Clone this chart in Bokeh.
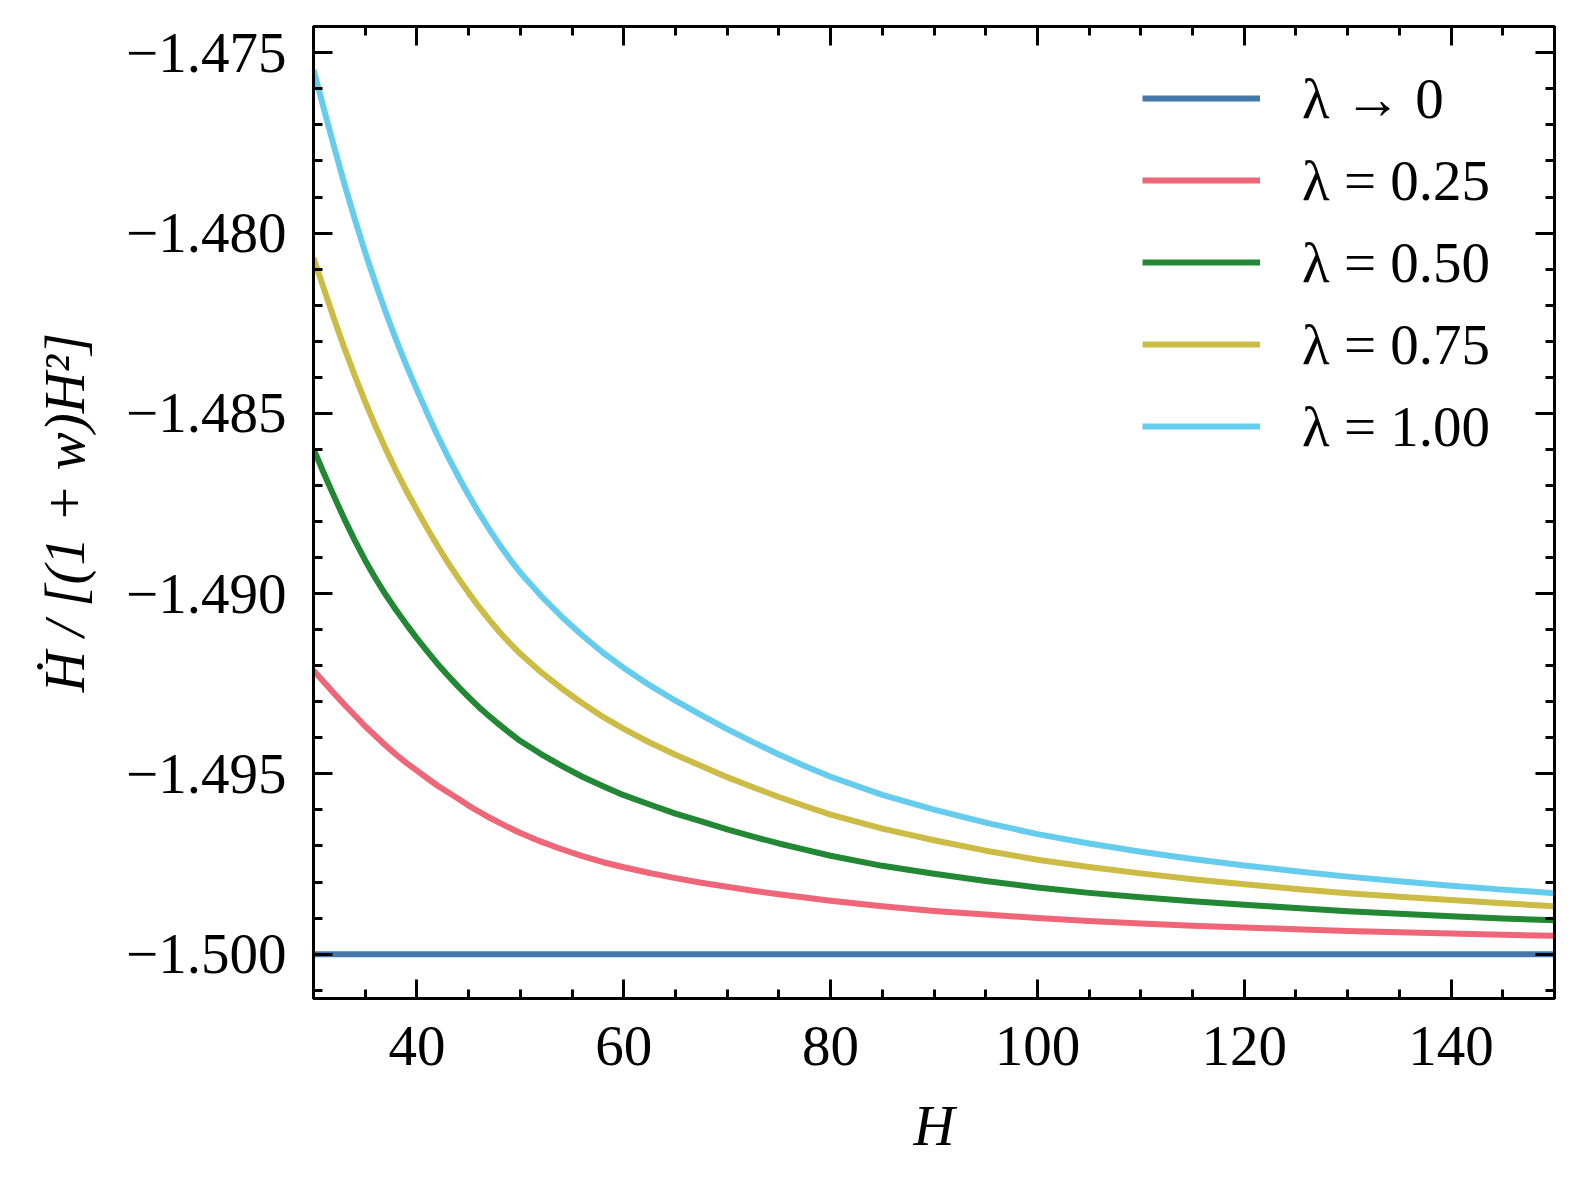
from bokeh.plotting import figure
from bokeh.models import (Range1d, FixedTicker, LinearAxis, Legend, LegendItem,
                          CustomJSTickFormatter)
from bokeh.embed import file_html
from bokeh.resources import INLINE

# ---------------- data ----------------
H_vals = [30, 31, 32, 33, 34, 35, 36, 37, 38, 39, 40, 41, 42, 43, 44, 45, 46,
          47, 48, 49, 50, 52, 54, 56, 58, 60, 62.5, 65, 67.5, 70, 72.5, 75,
          77.5, 80, 85, 90, 95, 100, 105, 110, 115, 120, 125, 130, 135, 140,
          145, 150]

H_lam0 = [30, 150]
y_lam0 = [-1.500, -1.500]

y_lam025 = [-1.49213, -1.49245, -1.49277, -1.49308, -1.49338, -1.49368,
            -1.49395, -1.49422, -1.49447, -1.49470, -1.49491, -1.49512,
            -1.49533, -1.49551, -1.49569, -1.49588, -1.49605, -1.49621,
            -1.49636, -1.49650, -1.49664, -1.49688, -1.49709, -1.49728,
            -1.49745, -1.49759, -1.49775, -1.49789, -1.49802, -1.49813,
            -1.49824, -1.49834, -1.49843, -1.49852, -1.49867, -1.49880,
            -1.49890, -1.49900, -1.49908, -1.49915, -1.49921, -1.49926,
            -1.49931, -1.49936, -1.49939, -1.49943, -1.49946, -1.49949]

y_lam050 = [-1.48599, -1.48666, -1.48731, -1.48794, -1.48853, -1.48908,
            -1.48958, -1.49004, -1.49046, -1.49086, -1.49124, -1.49160,
            -1.49195, -1.49227, -1.49258, -1.49287, -1.49315, -1.49340,
            -1.49364, -1.49387, -1.49409, -1.49445, -1.49478, -1.49508,
            -1.49534, -1.49559, -1.49585, -1.49610, -1.49632, -1.49654,
            -1.49674, -1.49693, -1.49710, -1.49727, -1.49755, -1.49777,
            -1.49797, -1.49815, -1.49830, -1.49842, -1.49853, -1.49863,
            -1.49872, -1.49881, -1.49888, -1.49895, -1.49901, -1.49906]

y_lam075 = [-1.48069, -1.48154, -1.48239, -1.48320, -1.48396, -1.48468,
            -1.48536, -1.48600, -1.48660, -1.48716, -1.48768, -1.48819,
            -1.48868, -1.48914, -1.48957, -1.48998, -1.49037, -1.49073,
            -1.49107, -1.49138, -1.49167, -1.49218, -1.49263, -1.49304,
            -1.49342, -1.49375, -1.49413, -1.49447, -1.49478, -1.49509,
            -1.49537, -1.49564, -1.49589, -1.49613, -1.49652, -1.49684,
            -1.49713, -1.49738, -1.49758, -1.49776, -1.49792, -1.49806,
            -1.49819, -1.49831, -1.49841, -1.49850, -1.49859, -1.49867]

y_lam100 = [-1.47547, -1.47655, -1.47762, -1.47865, -1.47962, -1.48054,
            -1.48140, -1.48221, -1.48297, -1.48368, -1.48435, -1.48500,
            -1.48562, -1.48620, -1.48675, -1.48727, -1.48776, -1.48822,
            -1.48865, -1.48905, -1.48942, -1.49006, -1.49064, -1.49116,
            -1.49164, -1.49206, -1.49254, -1.49297, -1.49337, -1.49376,
            -1.49412, -1.49446, -1.49478, -1.49508, -1.49558, -1.49599,
            -1.49635, -1.49667, -1.49693, -1.49716, -1.49736, -1.49754,
            -1.49770, -1.49785, -1.49798, -1.49810, -1.49821, -1.49831]

series_labels = ["λ → 0", "λ = 0.25", "λ = 0.50", "λ = 0.75", "λ = 1.00"]
series_colors = ["#4477AA", "#EE6677", "#228833", "#CCBB44", "#66CCEE"]

x_major_ticks = [40, 60, 80, 100, 120, 140]
x_tick_labels = ["40", "60", "80", "100", "120", "140"]
x_minor_ticks = list(range(30, 151, 5))

y_major_ticks = [-1.500, -1.495, -1.490, -1.485, -1.480, -1.475]
y_tick_labels = ["\u22121.500", "\u22121.495", "\u22121.490",
                 "\u22121.485", "\u22121.480", "\u22121.475"]
y_minor_ticks = [round(-1.501 + 0.001 * i, 3) for i in range(28)]

x_label = "H"
y_label = "Ḣ / [(1 + w)H²]"

# ---------------- styling ----------------
FONT = "Liberation Serif"
FS = "57px"

p = figure(frame_width=1241, frame_height=972,
           x_range=Range1d(30, 150), y_range=Range1d(-1.50123, -1.47427),
           output_backend="svg", toolbar_location=None,
           min_border_left=313, min_border_right=6,
           min_border_top=26, min_border_bottom=167,
           background_fill_color="white", border_fill_color="white")
p.grid.visible = False
p.outline_line_color = "black"
p.outline_line_width = 3

ys = [y_lam0, y_lam025, y_lam050, y_lam075, y_lam100]
xs = [H_lam0, H_vals, H_vals, H_vals, H_vals]
renderers = []
for x, y, c in zip(xs, ys, series_colors):
    r = p.line(x, y, line_color=c, line_width=6, line_join="round")
    renderers.append(r)

def pick_formatter(vals, labs):
    return CustomJSTickFormatter(args=dict(vals=vals, labs=labs), code="""
        let best = 0;
        for (let i = 0; i < vals.length; i++) {
            if (Math.abs(vals[i] - tick) < Math.abs(vals[best] - tick)) best = i;
        }
        return labs[best];
    """)

blank = CustomJSTickFormatter(code="return '';")

def style_axis(ax, ticker):
    ax.ticker = ticker
    ax.axis_line_width = 3
    ax.axis_line_color = "black"
    ax.major_tick_in = 19
    ax.major_tick_out = 0
    ax.minor_tick_in = 9
    ax.minor_tick_out = 0
    ax.major_tick_line_width = 3
    ax.minor_tick_line_width = 3
    ax.major_tick_line_color = "black"
    ax.minor_tick_line_color = "black"
    ax.major_label_text_font = FONT
    ax.major_label_text_font_size = FS
    ax.major_label_text_color = "black"
    ax.axis_label_text_font = FONT
    ax.axis_label_text_font_size = FS
    ax.axis_label_text_color = "black"
    ax.axis_label_text_font_style = "italic"

xt = FixedTicker(ticks=x_major_ticks, minor_ticks=x_minor_ticks)
yt = FixedTicker(ticks=y_major_ticks, minor_ticks=y_minor_ticks)

xa = p.xaxis[0]
style_axis(xa, xt)
xa.formatter = pick_formatter(x_major_ticks, x_tick_labels)
xa.major_label_standoff = 28
xa.axis_label = x_label
xa.axis_label_standoff = 26

ya = p.yaxis[0]
style_axis(ya, yt)
ya.formatter = pick_formatter(y_major_ticks, y_tick_labels)
ya.major_label_standoff = 27
ya.axis_label = y_label
ya.axis_label_standoff = 27

top = LinearAxis()
style_axis(top, FixedTicker(ticks=x_major_ticks, minor_ticks=x_minor_ticks))
top.formatter = blank
top.major_label_text_font_size = "1px"
top.major_label_standoff = 0
p.add_layout(top, "above")

right = LinearAxis()
style_axis(right, FixedTicker(ticks=y_major_ticks, minor_ticks=y_minor_ticks))
right.formatter = blank
right.major_label_text_font_size = "1px"
right.major_label_standoff = 0
p.add_layout(right, "right")

items = [LegendItem(label=l, renderers=[r]) for l, r in zip(series_labels, renderers)]
legend = Legend(items=items, location=(829, 531), orientation="vertical",
                padding=0, margin=0, spacing=0,
                label_height=82, glyph_height=82, glyph_width=118,
                label_standoff=42, label_text_font=FONT, label_text_font_size=FS,
                label_text_color="black",
                border_line_color=None, background_fill_alpha=0)
p.add_layout(legend)

open("out.html", "w").write(file_html(p, INLINE))
